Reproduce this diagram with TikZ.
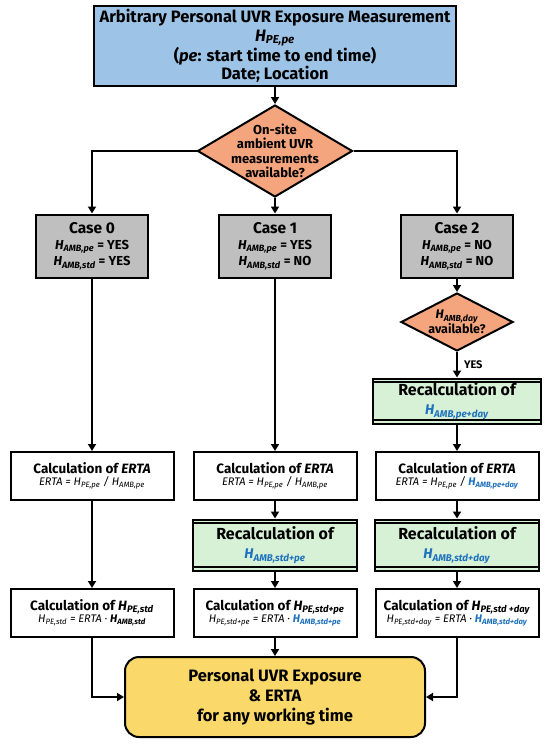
\documentclass[tikz,border=0pt]{standalone}
\usepackage{fontspec}
\setmainfont{Fira Sans}
\usetikzlibrary{shapes.geometric,arrows.meta}
\definecolor{boxblue}{HTML}{9DC3E6}
\definecolor{diaorange}{HTML}{F4A57E}
\definecolor{casegray}{HTML}{BFBFBF}
\definecolor{recgreen}{HTML}{D6F1D6}
\definecolor{finyellow}{HTML}{FAD86A}
\definecolor{hblue}{HTML}{1F72BD}
\newcommand{\Hs}[1]{\textit{H}\textsubscript{\textit{#1}}}

\begin{document}
\begin{tikzpicture}
  [x=1pt,y=-1pt,
   every node/.style={draw=black,line width=2pt,align=center,inner sep=2pt},
   plain/.style={draw=none,fill=none},
   calcbox/.style={rectangle,fill=white,minimum width=163pt,minimum height=48pt},
   casebox/.style={rectangle,fill=casegray,minimum width=112pt,minimum height=63pt,
     font=\bfseries\fontsize{13}{16}\selectfont},
   decision/.style={diamond,fill=diaorange},
   recalc/.style={rectangle,fill=recgreen,minimum width=164pt,minimum height=51pt,
     font=\bfseries\fontsize{16}{19}\selectfont},
   link/.style={line width=2.6pt,-{Triangle[length=7pt,width=8pt]}}]
  \useasboundingbox (0,0) rectangle (550,745);

  % Medicion y pregunta inicial
  \node[fill=boxblue,minimum width=362pt,minimum height=80pt,
    font=\bfseries\fontsize{16.5}{18.5}\selectfont] (top) at (275,46)
    {Arbitrary Personal UVR Exposure Measurement\\ \Hs{PE,pe}\\
     (\textit{pe}: start time to end time)\\ Date; Location};
  \node[decision,minimum width=155pt,minimum height=92pt] (q) at (275,151) {};
  \node[plain,font=\bfseries\fontsize{13}{14.5}\selectfont] (qtext) at (q.center)
    {On-site\\ ambient UVR\\ measurements\\ available?};

  % Casos
  \node[casebox] (c0) at (92,246)  {{\fontsize{15.5}{16}\selectfont Case 0}\\ \Hs{AMB,pe} = YES\\ \Hs{AMB,std} = YES};
  \node[casebox] (c1) at (275,246) {{\fontsize{15.5}{16}\selectfont Case 1}\\ \Hs{AMB,pe} = YES\\ \Hs{AMB,std} = NO};
  \node[casebox] (c2) at (457,246) {{\fontsize{15.5}{16}\selectfont Case 2}\\ \Hs{AMB,pe} = NO\\ \Hs{AMB,std} = NO};

  \node[decision,minimum width=112pt,minimum height=58pt] (d2) at (457,322) {};
  \node[plain,font=\bfseries\fontsize{12.5}{15}\selectfont] (d2text) at (d2.center)
    {\Hs{AMB,day}\\ available?};
  \node[plain,anchor=west,font=\bfseries\fontsize{11}{12}\selectfont] (yes) at (461,365) {YES};
  \node[recalc,minimum width=168pt,minimum height=45pt] (r2) at (457,401)
    {Recalculation of\\ {\fontsize{14}{16}\selectfont\textcolor{hblue}{\Hs{AMB,pe+day}}}};

  % Calculo de ERTA
  \node[calcbox] (e0) at (92,476)
    {\fontsize{13.5}{17}\selectfont\bfseries Calculation of \textit{ERTA}\\
     \fontsize{11}{13}\selectfont\mdseries\itshape ERTA = \Hs{PE,pe} / \Hs{AMB,pe}};
  \node[calcbox] (e1) at (275,476)
    {\fontsize{13.5}{17}\selectfont\bfseries Calculation of \textit{ERTA}\\
     \fontsize{11}{13}\selectfont\mdseries\itshape ERTA = \Hs{PE,pe} / \Hs{AMB,pe}};
  \node[calcbox] (e2) at (457,476)
    {\fontsize{13.5}{17}\selectfont\bfseries Calculation of \textit{ERTA}\\
     \fontsize{11}{13}\selectfont\mdseries\itshape ERTA = \Hs{PE,pe} / \textcolor{hblue}{\bfseries\Hs{AMB,pe+day}}};

  \node[recalc] (r1) at (275,545)
    {Recalculation of\\ {\fontsize{14}{16}\selectfont\textcolor{hblue}{\Hs{AMB,std+pe}}}};
  \node[recalc] (r2b) at (457,545)
    {Recalculation of\\ {\fontsize{14}{16}\selectfont\textcolor{hblue}{\Hs{AMB,std+day}}}};

  % Calculo de H_PE
  \node[calcbox] (h0) at (92,613)
    {\fontsize{13.5}{17}\selectfont\bfseries Calculation of \Hs{PE,std}\\
     \fontsize{11}{13}\selectfont\mdseries\itshape \Hs{PE,std} = ERTA · \textbf{\Hs{AMB,std}}};
  \node[calcbox] (h1) at (275,613)
    {\fontsize{13.5}{17}\selectfont\bfseries Calculation of \Hs{PE,std+pe}\\
     \fontsize{11}{13}\selectfont\mdseries\itshape \Hs{PE,std+pe} = ERTA · \textcolor{hblue}{\bfseries\Hs{AMB,std+pe}}};
  \node[calcbox] (h2) at (457,613)
    {\fontsize{13.5}{17}\selectfont\bfseries Calculation of \Hs{PE,std +day}\\
     \fontsize{11}{13}\selectfont\mdseries\itshape \Hs{PE,std+day} = ERTA · \textcolor{hblue}{\bfseries\Hs{AMB,std+day}}};

  \node[fill=finyellow,rounded corners=14pt,minimum width=300pt,minimum height=80pt,
    font=\bfseries\fontsize{16.5}{20}\selectfont] (fin) at (275,697)
    {Personal UVR Exposure\\ \& ERTA\\ for any working time};

  % Doble linea de los recalculos
  \foreach \n in {r1,r2,r2b} {
    \draw[line width=1.2pt] ([yshift=-4.5pt]\n.north west) -- ([yshift=-4.5pt]\n.north east);
    \draw[line width=1.2pt] ([yshift=4.5pt]\n.south west) -- ([yshift=4.5pt]\n.south east);
  }

  % Flechas
  \foreach \from/\to in {top/q, q/c1, c0/e0, c1/e1, c2/d2, d2/r2, r2/e2,
                         e1/r1, e2/r2b, r1/h1, r2b/h2, e0/h0, h1/fin}
    \draw[link] (\from) -- (\to);
  \draw[link] (q.west) -| (c0.north);
  \draw[link] (q.east) -| (c2.north);
  \draw[link] (h0.south) |- (fin.west);
  \draw[link] (h2.south) |- (fin.east);
\end{tikzpicture}
\end{document}
